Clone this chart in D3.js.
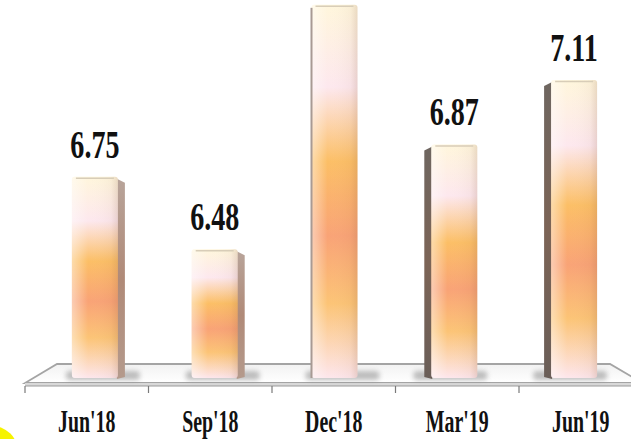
<!DOCTYPE html>
<html>
<head>
<meta charset="utf-8">
<script src="https://cdn.jsdelivr.net/npm/d3@7"></script>
<style>
  body { margin: 0; background: #fff; }
  svg { display: block; }
</style>
</head>
<body>
<div id="viz"></div>
<script>
// data
var quarters = ["Jun'18", "Sep'18", "Dec'18", "Mar'19", "Jun'19"];
var values = [6.75, 6.48, 7.39, 6.87, 7.11];
// Dec'18 label sits above the top of the picture, so it is not shown
var valueLabels = ["6.75", "6.48", "", "6.87", "7.11"];

// dimensions
var width = 631;
var height = 439;
var baseY = 378;     // where the bars stand on the floor
var backY = 364;     // back edge of the floor
var frontY = 383;    // front edge of the floor
var faceW = 46;      // bar front face width
var sideW = 8;       // bar side depth

var svg = d3.select("#viz")
    .append("svg")
    .attr("width", width)
    .attr("height", height);

var defs = svg.append("defs");

// front face colours, top to bottom
var face = defs.append("linearGradient")
    .attr("id", "face")
    .attr("x1", 0).attr("y1", 0).attr("x2", 0).attr("y2", 1);
[["0%", "#fff6dc"], ["22%", "#fde8ee"], ["42%", "#fcbf66"], ["62%", "#f9a376"],
 ["80%", "#fcc476"], ["100%", "#fde6ec"]].forEach(function(s) {
    face.append("stop").attr("offset", s[0]).attr("stop-color", s[1]);
});

var shine = defs.append("linearGradient")
    .attr("id", "shine")
    .attr("x1", 0).attr("y1", 0).attr("x2", 1).attr("y2", 0);
shine.append("stop").attr("offset", "0%").attr("stop-color", "#fff").attr("stop-opacity", 0.45);
shine.append("stop").attr("offset", "35%").attr("stop-color", "#fff").attr("stop-opacity", 0);
shine.append("stop").attr("offset", "85%").attr("stop-color", "#8a5a40").attr("stop-opacity", 0.05);
shine.append("stop").attr("offset", "100%").attr("stop-color", "#8a5a40").attr("stop-opacity", 0.18);

var sideR = defs.append("linearGradient")
    .attr("id", "sideR")
    .attr("x1", 0).attr("y1", 0).attr("x2", 0).attr("y2", 1);
sideR.append("stop").attr("offset", "0%").attr("stop-color", "#b8a49a");
sideR.append("stop").attr("offset", "50%").attr("stop-color", "#b08a78");
sideR.append("stop").attr("offset", "100%").attr("stop-color", "#b49a8c");

var sideL = defs.append("linearGradient")
    .attr("id", "sideL")
    .attr("x1", 0).attr("y1", 0).attr("x2", 0).attr("y2", 1);
sideL.append("stop").attr("offset", "0%").attr("stop-color", "#6e6660");
sideL.append("stop").attr("offset", "50%").attr("stop-color", "#7c6456");
sideL.append("stop").attr("offset", "100%").attr("stop-color", "#6a5e58");

var floorG = defs.append("linearGradient")
    .attr("id", "floorG")
    .attr("x1", 0).attr("y1", 0).attr("x2", 0).attr("y2", 1);
floorG.append("stop").attr("offset", "0%").attr("stop-color", "#f2f2f2");
floorG.append("stop").attr("offset", "100%").attr("stop-color", "#ffffff");

defs.append("filter").attr("id", "blur")
    .attr("x", "-50%").attr("y", "-50%").attr("width", "200%").attr("height", "200%")
    .append("feGaussianBlur").attr("stdDeviation", 2.5);

// scales: front edge of the floor for labels/ticks, back row for the bars
var xFront = d3.scaleBand().domain(quarters).range([25, 642.5]).padding(0);
var xBack = d3.scaleBand().domain(quarters).range([35, 634]).padding(0);
var y = d3.scaleLinear().domain([6, 7.11]).range([baseY, 80]);

var vanishX = xBack(quarters[2]) + xBack.bandwidth() / 2;

// floor
var fl = xFront.range()[0], fr = xFront.range()[1];
var bl = 57, br = 610;
svg.append("path")
    .attr("d", "M" + bl + "," + backY + "L" + br + "," + backY + "L" + fr + "," + frontY +
        "L" + fl + "," + frontY + "Z")
    .attr("fill", "url(#floorG)")
    .attr("stroke", "#a4a4a4")
    .attr("stroke-width", 1.8);
svg.append("rect")
    .attr("x", fl).attr("y", frontY)
    .attr("width", fr - fl).attr("height", 3)
    .attr("fill", "#d8d8d8");
svg.append("line")
    .attr("x1", fl).attr("x2", fr)
    .attr("y1", frontY + 3).attr("y2", frontY + 3)
    .attr("stroke", "#9a9a9a").attr("stroke-width", 1);

// ticks on the front edge
var tickX = quarters.map(function(q) { return xFront(q); }).concat([fr]);
svg.selectAll(".tick")
    .data(tickX)
    .enter()
    .append("line")
    .attr("x1", function(d) { return d; })
    .attr("x2", function(d) { return d; })
    .attr("y1", frontY + 3)
    .attr("y2", frontY + 10)
    .attr("stroke", "#7a7a7a")
    .attr("stroke-width", 1.2);

var bars = quarters.map(function(q, i) {
    var cx = xBack(q) + xBack.bandwidth() / 2;
    var dir = Math.max(-1, Math.min(1, (cx - vanishX) / 60)); // which side shows
    return { q: q, v: values[i], label: valueLabels[i], cx: cx, dir: dir };
});

// floor shadows
svg.selectAll(".shadow")
    .data(bars)
    .enter()
    .append("rect")
    .attr("x", function(d) { return d.cx - faceW / 2 - 6 - (d.dir > 0 ? sideW + 4 : 0); })
    .attr("y", baseY - 7)
    .attr("width", faceW + sideW + 20)
    .attr("height", 9)
    .attr("rx", 4)
    .attr("fill", "#8a8a8a")
    .attr("opacity", 0.55)
    .attr("filter", "url(#blur)");

// side faces
svg.selectAll(".side")
    .data(bars)
    .enter()
    .append("path")
    .attr("d", function(d) {
        var top = y(d.v);
        var w = -d.dir * sideW;
        var edgeX = d.cx + (w > 0 ? faceW / 2 - 1 : -faceW / 2 + 1);
        if (Math.abs(w) < 1) return "";
        return "M" + edgeX + "," + (top + 2) +
            "L" + (edgeX + w) + "," + (top + 6) +
            "L" + (edgeX + w) + "," + (baseY - 1) +
            "L" + edgeX + "," + (baseY + 1) + "Z";
    })
    .attr("fill", function(d) { return d.dir < 0 ? "url(#sideR)" : "url(#sideL)"; });

// front faces
svg.selectAll(".bar")
    .data(bars)
    .enter()
    .append("rect")
    .attr("x", function(d) { return d.cx - faceW / 2; })
    .attr("y", function(d) { return y(d.v); })
    .attr("width", faceW)
    .attr("height", function(d) { return baseY - y(d.v); })
    .attr("rx", 3)
    .attr("fill", "url(#face)");

svg.selectAll(".shine")
    .data(bars)
    .enter()
    .append("rect")
    .attr("x", function(d) { return d.cx - faceW / 2; })
    .attr("y", function(d) { return y(d.v); })
    .attr("width", faceW)
    .attr("height", function(d) { return baseY - y(d.v); })
    .attr("rx", 3)
    .attr("fill", "url(#shine)");

// thin edges on the middle bar
svg.selectAll(".edge")
    .data(bars.filter(function(d) { return Math.abs(d.dir) < 0.2; }))
    .enter()
    .append("rect")
    .attr("x", function(d) { return d.cx - faceW / 2 - 1; })
    .attr("y", function(d) { return y(d.v) + 3; })
    .attr("width", 2)
    .attr("height", function(d) { return baseY - y(d.v) - 3; })
    .attr("fill", "#a89a94");

// top bevel highlight
svg.selectAll(".cap")
    .data(bars)
    .enter()
    .append("line")
    .attr("x1", function(d) { return d.cx - faceW / 2 + 4; })
    .attr("x2", function(d) { return d.cx + faceW / 2 - 4; })
    .attr("y1", function(d) { return y(d.v) + 1.5; })
    .attr("y2", function(d) { return y(d.v) + 1.5; })
    .attr("stroke", "#d8cdb8")
    .attr("stroke-width", 1.5);

// value labels
svg.selectAll(".val")
    .data(bars.filter(function(d) { return d.label !== ""; }))
    .enter()
    .append("text")
    .attr("transform", function(d) {
        return "translate(" + d.cx + "," + (y(d.v) - 19) + ") scale(0.72,1)";
    })
    .attr("text-anchor", "middle")
    .attr("style", "font-family: 'Liberation Serif'; font-weight: bold; font-size: 39px; fill: #111;")
    .text(function(d) { return d.label; });

// category labels
svg.selectAll(".cat")
    .data(quarters)
    .enter()
    .append("text")
    .attr("transform", function(d) {
        return "translate(" + (xFront(d) + xFront.bandwidth() / 2) + ",432) scale(0.64,1)";
    })
    .attr("text-anchor", "middle")
    .attr("style", "font-family: 'Liberation Serif'; font-weight: bold; font-size: 31px; fill: #111;")
    .text(function(d) { return d; });

// yellow corner mark
svg.append("circle")
    .attr("cx", -8).attr("cy", 452).attr("r", 26)
    .attr("fill", "#f6f300");
</script>
</body>
</html>
